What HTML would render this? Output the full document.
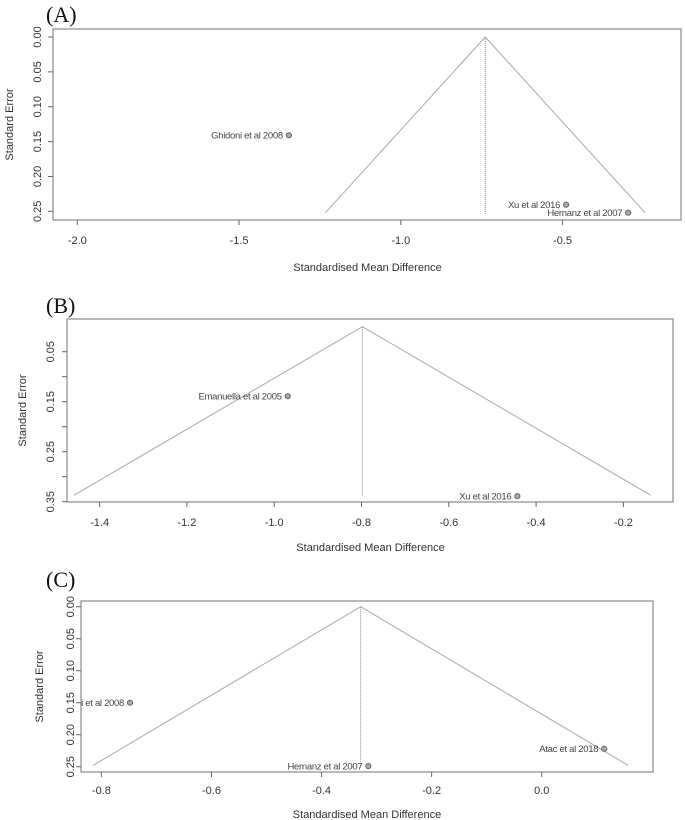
<!DOCTYPE html>
<html><head><meta charset="utf-8"><style>
html,body{margin:0;padding:0;background:#fff;}
svg{display:block;font-family:"Liberation Sans",Arial,sans-serif;}
.tick{font-size:11px;fill:#333;}
.ttl{font-size:11px;fill:#333;}
.lab{font-size:9.5px;fill:#444;letter-spacing:-0.3px;}
.pan{font-family:"Liberation Serif",serif;font-size:22px;fill:#111;}
</style></head><body>
<svg id="chart" width="685" height="820" viewBox="0 0 685 820"></svg>
<script>
// Panel A data
const aStudies = ["Ghidoni et al 2008", "Xu et al 2016", "Hernanz et al 2007"];
const aSMD = [-1.346, -0.489, -0.297];
const aSE = [0.141, 0.2405, 0.252];
const aPooled = -0.739;
const aMaxSE = 0.252;
const aXTicks = [-2.0, -1.5, -1.0, -0.5];
const aXTickLabels = ["-2.0", "-1.5", "-1.0", "-0.5"];
const aYTicks = [0.00, 0.05, 0.10, 0.15, 0.20, 0.25];
const aYTickLabels = ["0.00", "0.05", "0.10", "0.15", "0.20", "0.25"];
// Panel B data
const bStudies = ["Emanuella et al 2005", "Xu et al 2016"];
const bSMD = [-0.969, -0.443];
const bSE = [0.139, 0.339];
const bPooled = -0.798;
const bMaxSE = 0.337;
const bXTicks = [-1.4, -1.2, -1.0, -0.8, -0.6, -0.4, -0.2];
const bXTickLabels = ["-1.4", "-1.2", "-1.0", "-0.8", "-0.6", "-0.4", "-0.2"];
const bYTicks = [0.05, 0.10, 0.15, 0.20, 0.25, 0.30, 0.35];
const bYTickLabels = ["0.05", "", "0.15", "", "0.25", "", "0.35"];
// Panel C data
const cStudies = ["Ghidoni et al 2008", "Hernanz et al 2007", "Atac et al 2018"];
const cSMD = [-0.748, -0.315, 0.1135];
const cSE = [0.150, 0.249, 0.222];
const cPooled = -0.329;
const cMaxSE = 0.248;
const cXTicks = [-0.8, -0.6, -0.4, -0.2, 0.0];
const cXTickLabels = ["-0.8", "-0.6", "-0.4", "-0.2", "0.0"];
const cYTicks = [0.00, 0.05, 0.10, 0.15, 0.20, 0.25];
const cYTickLabels = ["0.00", "0.05", "0.10", "0.15", "0.20", "0.25"];

const NS = "http://www.w3.org/2000/svg";
const svg = document.getElementById("chart");
function mk(tag, attrs, parent, text) {
  const e = document.createElementNS(NS, tag);
  for (const k in attrs) e.setAttribute(k, attrs[k]);
  if (text !== undefined) e.textContent = text;
  (parent || svg).appendChild(e);
  return e;
}

function panel(cfg) {
  const g = mk("g", {});
  
  
  const x = v => cfg.x0 + (v - cfg.xv0) * cfg.xs;
  const y = v => cfg.y0 + (v - cfg.yv0) * cfg.ys;
  const clipId = "clip" + cfg.id;
  const cp = mk("clipPath", {id: clipId}, g);
  mk("rect", {x: cfg.box[0], y: cfg.box[1], width: cfg.box[2] - cfg.box[0], height: cfg.box[3] - cfg.box[1]}, cp);

  const pl = mk("text", {x: cfg.panelX, y: cfg.panelY, class: "pan"}, g, "(" + cfg.id.toUpperCase() + ")");
  
  

  const box = mk("rect", {x: cfg.box[0], y: cfg.box[1], width: cfg.box[2] - cfg.box[0], height: cfg.box[3] - cfg.box[1], fill: "none", stroke: "#888", "stroke-width": 1.2}, g);
  
  

  const half = 1.96 * cfg.maxSE;
  const fun = mk("polyline", {points: x(cfg.pooled - half) + "," + y(cfg.maxSE) + " " + x(cfg.pooled) + "," + y(0) + " " + x(cfg.pooled + half) + "," + y(cfg.maxSE), fill: "none", stroke: "#aaa", "stroke-width": 1}, g);
  
  
  const vl = mk("line", {x1: x(cfg.pooled), x2: x(cfg.pooled), y1: y(0), y2: y(cfg.maxSE + 0.003), stroke: "#888", "stroke-width": 1, "stroke-dasharray": "1,1"}, g);
  
  

  const xa = mk("g", {}, g);
  
  
  cfg.xt.forEach((t, i) => {
    mk("line", {x1: x(t), x2: x(t), y1: cfg.box[3], y2: cfg.box[3] + 5, stroke: "#666"}, xa);
    const tl = mk("text", {x: x(t), y: cfg.xLabY, "text-anchor": "middle", class: "tick"}, xa, cfg.xtl[i]);
    
    
  });
  const xt = mk("text", {x: (cfg.box[0] + cfg.box[2]) / 2 - cfg.xTitleShift, y: cfg.xTitleY, "text-anchor": "middle", class: "ttl"}, g, "Standardised Mean Difference");
  
  

  const ya = mk("g", {}, g);
  
  
  cfg.yt.forEach((t, i) => {
    mk("line", {x1: cfg.box[0] - 5, x2: cfg.box[0], y1: y(t), y2: y(t), stroke: "#666"}, ya);
    if (cfg.ytl[i]) {
      const tl = mk("text", {x: 0, y: 0, transform: "translate(" + (cfg.yLabX + 4) + "," + y(t) + ") rotate(-90)", "text-anchor": "middle", class: "tick"}, ya, cfg.ytl[i]);
      
      
    }
  });
  const ytt = mk("text", {x: 0, y: 0, transform: "translate(" + (cfg.yTitleX + 4) + "," + ((cfg.box[1] + cfg.box[3]) / 2) + ") rotate(-90)", "text-anchor": "middle", class: "ttl"}, g, "Standard Error");
  
  

  const pg = mk("g", {"clip-path": "url(#" + clipId + ")"}, g);
  cfg.names.forEach((n, i) => {
    const c = mk("circle", {cx: x(cfg.smd[i]), cy: y(cfg.se[i]), r: 2.6, fill: "#aaa", stroke: "#666", "stroke-width": 1}, pg);
    
    
    const t = mk("text", {x: x(cfg.smd[i]) - 6, y: y(cfg.se[i]) + 3.2, "text-anchor": "end", class: "lab"}, pg, n);
    
    
  });
}

panel({id: "a", box: [53, 29, 681, 220], x0: 77.3, xv0: -2.0, xs: 323.5, y0: 37, yv0: 0, ys: 697.3,
  names: aStudies, smd: aSMD, se: aSE, pooled: aPooled, maxSE: aMaxSE, xt: aXTicks, xtl: aXTickLabels, yt: aYTicks, ytl: aYTickLabels,
  xLabY: 244, xTitleY: 271, xTitleShift: -0.5, yLabX: 37, yTitleX: 9, panelX: 46, panelY: 22});
panel({id: "b", box: [67, 319, 673, 502], x0: 99.6, xv0: -1.4, xs: 436.5, y0: 326.7, yv0: 0, ys: 500,
  names: bStudies, smd: bSMD, se: bSE, pooled: bPooled, maxSE: bMaxSE, xt: bXTicks, xtl: bXTickLabels, yt: bYTicks, ytl: bYTickLabels,
  xLabY: 526, xTitleY: 551, xTitleShift: -0.5, yLabX: 50, yTitleX: 22, panelX: 46, panelY: 313});
panel({id: "c", box: [81, 601, 653, 772], x0: 101.4, xv0: -0.8, xs: 550.4, y0: 606.7, yv0: 0, ys: 640,
  names: cStudies, smd: cSMD, se: cSE, pooled: cPooled, maxSE: cMaxSE, xt: cXTicks, xtl: cXTickLabels, yt: cYTicks, ytl: cYTickLabels,
  xLabY: 794, xTitleY: 818, xTitleShift: 0, yLabX: 70, yTitleX: 39, panelX: 46, panelY: 587});
</script>
</body></html>
